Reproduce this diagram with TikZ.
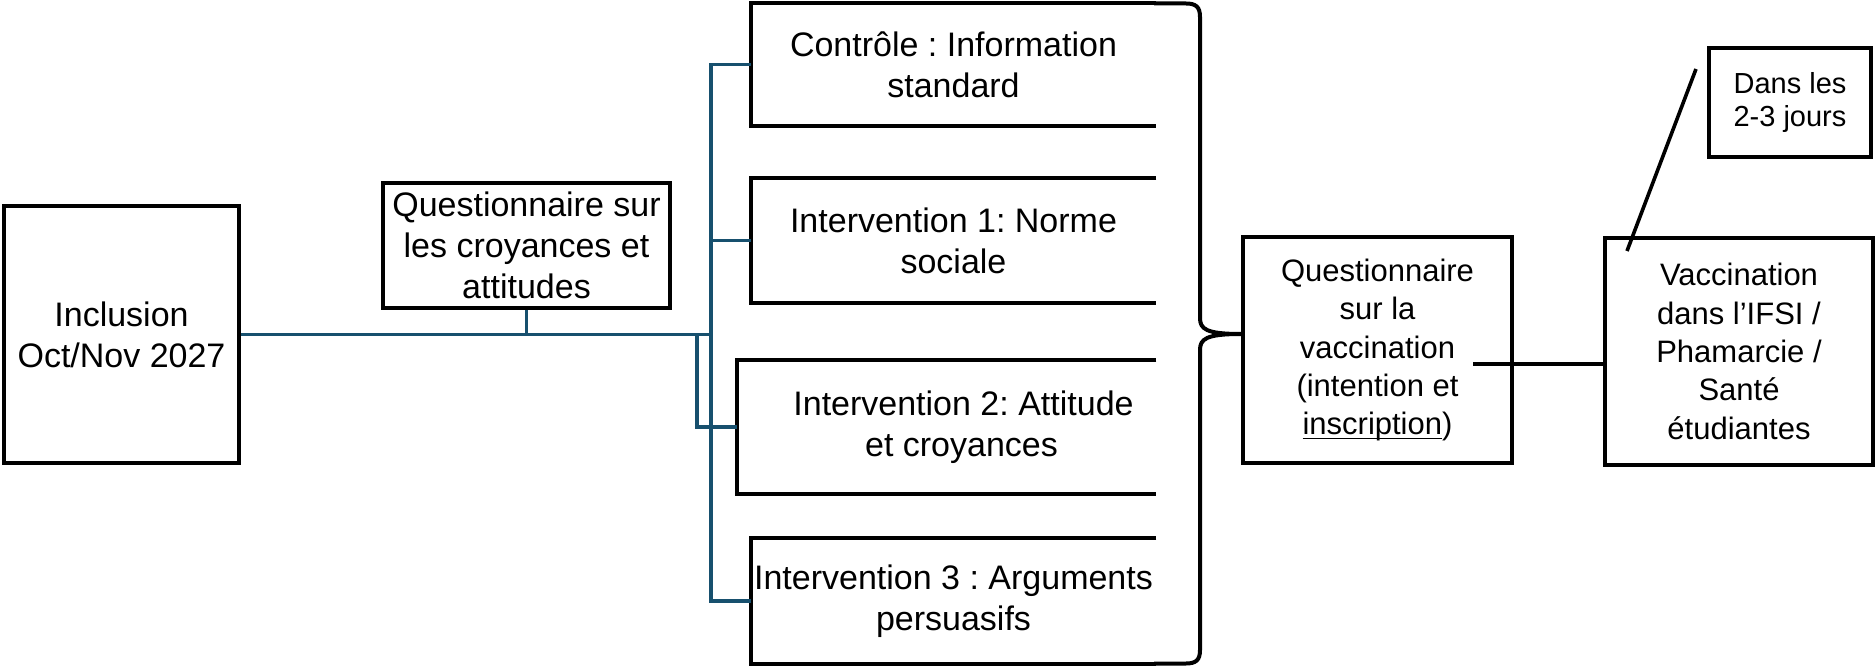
\documentclass[tikz,border=0pt]{standalone}
\usepackage{fontspec}
\setmainfont{Liberation Sans}
\usetikzlibrary{calc}
\definecolor{linkteal}{HTML}{17506E}
% underline sitting close to the baseline
\newcommand\ulword[1]{\setbox0\hbox{#1}\rlap{\rule[-2.3pt]{\wd0}{0.9pt}}\box0}
\frenchspacing
\begin{document}
\begin{tikzpicture}[x=0.5pt,y=-0.5pt,
  boxline/.style={line width=2pt,black,line join=miter},
  stepbox/.style={boxline,draw,inner sep=0pt,align=center,
    font=\fontsize{17}{20.5}\selectfont},
  armbox/.style={inner sep=0pt,align=center,minimum width=202.5pt,
    font=\fontsize{17}{20.5}\selectfont},
  sidebox/.style={boxline,draw,inner sep=0pt,align=center,
    font=\fontsize{15.5}{19.2}\selectfont},
  notebox/.style={boxline,draw,inner sep=0pt,align=center,
    font=\fontsize{14.5}{16.5}\selectfont},
  branch/.style={line width=1.65pt,linkteal},
  plainlink/.style={line width=1.8pt,black}]
\useasboundingbox (0,0) rectangle (1875,668);

% inclusion and baseline questionnaire
\node[stepbox,minimum width=117.5pt,minimum height=128.5pt] (incl) at (121.5,334.5)
  {Inclusion\\Oct/Nov 2027};
\node[stepbox,minimum width=143.5pt,minimum height=62.5pt] (q1) at (526.5,245.5)
  {Questionnaire sur\\les croyances et\\attitudes};

% the four study arms (boxes open on the right)
\node[armbox,minimum height=61.25pt] (ctrl) at (953.5,64.75)
  {Contrôle : Information\\standard};
\node[armbox,minimum height=62.5pt] (i1) at (953.5,240.5)
  {Intervention 1: Norme\\sociale};
\node[armbox,minimum width=209.5pt,minimum height=67pt] (i2) at (946.5,427)
  {\hspace*{17pt}Intervention 2: Attitude\\\hspace*{15pt}et croyances};
\node[armbox,minimum height=63pt] (i3) at (953.5,601)
  {Intervention 3 : Arguments\\persuasifs};
\foreach \n in {ctrl,i1,i2,i3}
  \draw[boxline] (\n.north east) -| (\n.south west) -- (\n.south east);

% follow-up
\node[sidebox,minimum width=134.5pt,minimum height=113pt] (q2) at (1377.5,350)
  {Questionnaire\\sur la\\vaccination\\(intention et\\\ulword{inscription})};
\node[sidebox,minimum width=134pt,minimum height=113.5pt] (v) at (1739,351.5)
  {Vaccination\\dans l’IFSI /\\Phamarcie /\\Santé\\étudiantes};
\node[notebox,minimum width=81pt,minimum height=54.5pt] (dans) at (1790,102.5)
  {Dans les\\2-3 jours};

% randomisation tree
\coordinate (jmain) at (711,334);
\coordinate (jtwo) at (697,334);
\draw[branch] (incl.east) -- (incl.east -| jmain);
\draw[branch] (q1.south) -- (q1.south |- jmain);
\draw[branch] (ctrl.west) -- (ctrl.west -| jmain) |- (i3.west);
\draw[branch] (i1.west) -- (i1.west -| jmain);
\draw[branch] (jtwo) |- (i2.west);

% brace gathering the arms
\coordinate (tip) at (q2.west |- jmain);
\draw[boxline,line join=round]
  (1154,3.5) -- (1186,3.5) .. controls (1196,3.5) and (1200,7) .. (1200,17)
  -- (1200,318) .. controls (1200,329) and (1206,334) .. (tip)
  .. controls (1206,334) and (1200,339) .. (1200,350)
  -- (1200,650) .. controls (1200,660) and (1196,663.5) .. (1186,663.5)
  -- (1154,663.5);

% vaccination step and delay note
\coordinate (qv) at (1473,364);
\draw[plainlink] (qv) -- (qv -| v.west);
\coordinate (callfoot) at (1627,251);
\coordinate (callhead) at (1696,69);
\draw[plainlink] (callfoot) -- (callhead);
\end{tikzpicture}
\end{document}
